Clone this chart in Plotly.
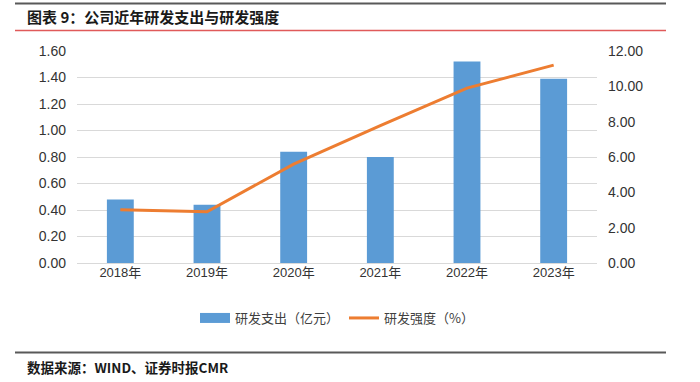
import plotly.graph_objects as go

categories = ["2018年", "2019年", "2020年", "2021年", "2022年", "2023年"]
rd_spend = [0.48, 0.44, 0.84, 0.80, 1.52, 1.39]
rd_intensity = [3.02, 2.90, 5.60, 7.78, 9.90, 11.20]
left_ticks = [0, 0.2, 0.4, 0.6, 0.8, 1.0, 1.2, 1.4, 1.6]
right_ticks = [0, 2, 4, 6, 8, 10, 12]

W, H = 700, 382
L, R, T, B = 77, 597, 51, 263

def px(x):
    return (x - L) / (R - L)

def py(y):
    return (B - y) / (B - T)

BLUE = "#5B9BD5"
ORANGE = "#ED7D31"

fig = go.Figure()
fig.add_trace(go.Bar(
    x=categories, y=rd_spend, name="研发支出（亿元）", showlegend=False,
    marker=dict(color=BLUE, line=dict(width=0)), width=0.31, yaxis="y"))
# legend proxy for the bar series (wide rectangle swatch)
fig.add_trace(go.Scatter(
    x=[None], y=[None], name="研发支出（亿元）", mode="lines",
    line=dict(color=BLUE, width=10), yaxis="y"))
fig.add_trace(go.Scatter(
    x=categories, y=rd_intensity, name="研发强度（%）", mode="lines",
    line=dict(color=ORANGE, width=3), yaxis="y2"))

font = "Noto Sans CJK SC, Liberation Sans, sans-serif"
fig.update_layout(
    width=W, height=H,
    margin=dict(l=L, r=W - R, t=T, b=H - B, pad=0),
    paper_bgcolor="white", plot_bgcolor="white",
    font=dict(family=font, size=12, color="#404040"),
    showlegend=True,
    legend=dict(orientation="h", x=0.5, xanchor="center", y=py(318), yanchor="middle",
                font=dict(size=13, color="#404040"), traceorder="normal"),
    xaxis=dict(range=[-0.5, 5.5], showgrid=False, showline=False, zeroline=False,
               ticks="", tickfont=dict(size=13, color="#333333", family="Liberation Sans, Noto Sans CJK SC")),
    yaxis=dict(range=[0, 1.6], tickvals=left_ticks, tickformat=".2f",
               showgrid=True, gridcolor="#D9D9D9", gridwidth=1, zeroline=True,
               zerolinecolor="#D9D9D9", zerolinewidth=1, showline=False,
               ticks="", ticklabelstandoff=10,
               tickfont=dict(size=14, color="#333333", family="Liberation Sans")),
    yaxis2=dict(range=[0, 12], tickvals=right_ticks, tickformat=".2f", overlaying="y",
                side="right", showgrid=False, zeroline=False, showline=False,
                ticks="", ticklabelstandoff=10,
                tickfont=dict(size=14, color="#333333", family="Liberation Sans")),
)

shapes = [
    dict(type="line", xref="paper", yref="paper", x0=px(15), x1=px(666), y0=py(3.5), y1=py(3.5),
         line=dict(color="#595959", width=2)),
    dict(type="line", xref="paper", yref="paper", x0=px(15), x1=px(666), y0=py(30.5), y1=py(30.5),
         line=dict(color="#E05A5A", width=1.5)),
    dict(type="line", xref="paper", yref="paper", x0=px(15), x1=px(666), y0=py(352.5), y1=py(352.5),
         line=dict(color="#595959", width=2)),
]
fig.update_layout(shapes=shapes)

fig.add_annotation(text="<b>图表 9：公司近年研发支出与研发强度</b>", xref="paper", yref="paper",
                   x=px(25), y=py(17), xanchor="left", yanchor="middle", showarrow=False,
                   font=dict(size=15, color="#1a1a1a", family=font))
fig.add_annotation(text="<b>数据来源：WIND、证券时报CMR</b>", xref="paper", yref="paper",
                   x=px(25), y=py(367), xanchor="left", yanchor="middle", showarrow=False,
                   font=dict(size=13.5, color="#1a1a1a", family=font))

fig.write_html("out.html", config={"displayModeBar": False},
               post_script="document.body.style.margin='0';")
